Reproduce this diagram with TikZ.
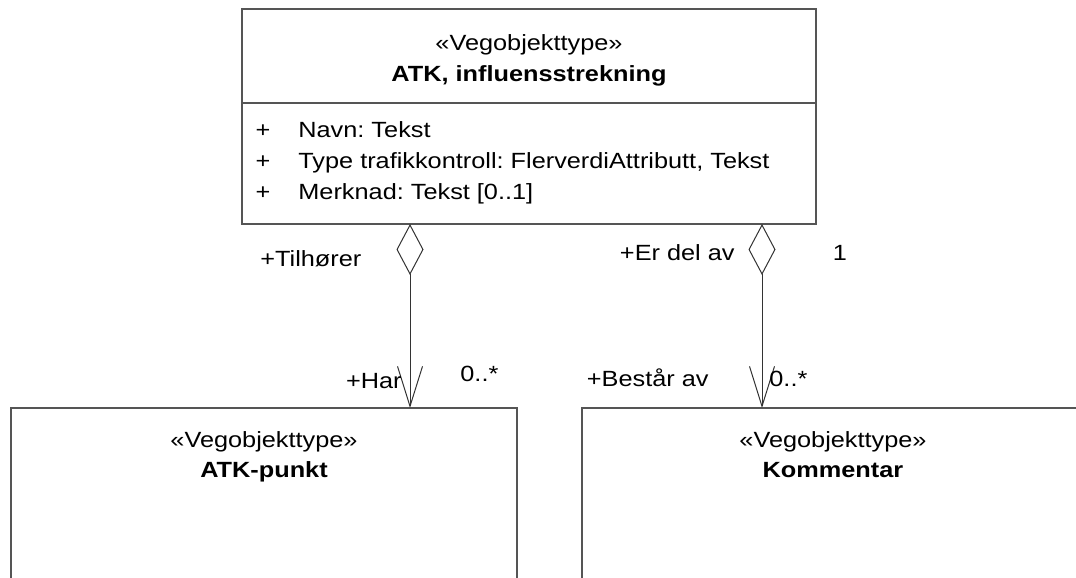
\documentclass[tikz,border=0pt]{standalone}
\usepackage{fontspec}
\setmainfont{Liberation Sans}[FakeStretch=1.15]
\usetikzlibrary{arrows.meta}
\definecolor{boxline}{HTML}{555555}
\definecolor{conn}{HTML}{333333}
\frenchspacing
\begin{document}
\begin{tikzpicture}[x=0.5pt,y=-0.5pt,
  umlbox/.style={draw=boxline, line width=1pt, rectangle, inner sep=0pt, outer sep=0pt, anchor=north west},
  txt/.style={font=\fontsize{11}{13}\selectfont, inner sep=0pt, anchor=base, text=black},
  txtb/.style={txt, font=\fontsize{11}{13}\selectfont\bfseries},
  divider/.style={draw=boxline, line width=1pt},
  aggr/.style={draw=conn, line width=0.5pt,
    {Diamond[open, length=25.5pt, width=13.5pt]}-{Straight Barb[length=20pt, width=12.5pt]}}
]
\useasboundingbox (0,0) rectangle (1076,578);
\clip (0,0) rectangle (1076,578);
% boxes
\node[umlbox, minimum width=287pt, minimum height=107.5pt] (top) at (242,9) {};
\node[umlbox, minimum width=253pt, minimum height=100pt] (punkt) at (11,408) {};
\node[umlbox, minimum width=251pt, minimum height=100pt] (komm) at (582,408) {};
\draw[divider] (top.west |- 0,103) -- (top.east |- 0,103);
% top box texts
\node[txt] (st1) at (529,50.5) {«Vegobjekttype»};
\node[txtb] (nm1) at (529,81.5) {ATK, influensstrekning};
\node[txt] (p1) at (263,137.5) {+};
\node[txt, anchor=base west] (a1) at (298,137.5) {Navn: Tekst};
\node[txt] (p2) at (263,168.5) {+};
\node[txt, anchor=base west] (a2) at (298,168.5) {Type trafikkontroll: FlerverdiAttributt, Tekst};
\node[txt] (p3) at (263,199.5) {+};
\node[txt, anchor=base west] (a3) at (298,199.5) {Merknad: Tekst [0..1]};
% bottom box texts
\node[txt] (st2) at (264,447) {«Vegobjekttype»};
\node[txtb] (nm2) at (264,477) {ATK-punkt};
\node[txt] (st3) at (833,447) {«Vegobjekttype»};
\node[txtb] (nm3) at (833,477) {Kommentar};
% connectors
\draw[aggr] (top.south -| 410,0) -- (punkt.north -| 410,0);
\draw[aggr] (top.south -| 762,0) -- (komm.north -| 762,0);
% role labels
\node[txt, anchor=base west] (r1) at (260,266) {+Tilhører};
\node[txt, anchor=base east] (r2) at (735,260) {+Er del av};
\node[txt] (m1) at (840,260) {1};
\node[txt, anchor=base east] (r3) at (402,388) {+Har};
\node[txt, anchor=base west] (m2) at (460,381) {0..*};
\node[txt, anchor=base east] (r4) at (709,386) {+Består av};
\node[txt, anchor=base west] (m3) at (769,386) {0..*};
\end{tikzpicture}
\end{document}
